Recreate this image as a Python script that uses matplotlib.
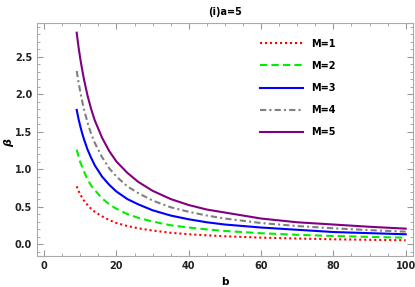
import matplotlib
matplotlib.use("Agg")
import matplotlib.pyplot as plt
from matplotlib.ticker import MultipleLocator

# values
b = [9, 9.5, 10, 10.5, 11, 12, 13, 14, 16, 18, 20, 23, 26, 30, 35, 40, 45, 50, 60, 70, 80, 90, 100]
beta_m1 = [0.77, 0.71, 0.66, 0.62, 0.58, 0.52, 0.47, 0.43, 0.37, 0.32, 0.28, 0.24, 0.21, 0.18, 0.15,
           0.13, 0.116, 0.103, 0.085, 0.073, 0.063, 0.056, 0.050]
beta_m2 = [1.26, 1.17, 1.09, 1.03, 0.97, 0.86, 0.78, 0.72, 0.61, 0.53, 0.47, 0.40, 0.35, 0.30, 0.25,
           0.22, 0.195, 0.174, 0.144, 0.123, 0.107, 0.095, 0.085]
beta_m3 = [1.79, 1.67, 1.57, 1.48, 1.40, 1.26, 1.15, 1.05, 0.90, 0.79, 0.70, 0.60, 0.53, 0.45, 0.38,
           0.33, 0.29, 0.26, 0.22, 0.19, 0.16, 0.145, 0.13]
beta_m4 = [2.31, 2.16, 2.03, 1.91, 1.80, 1.62, 1.47, 1.35, 1.16, 1.01, 0.90, 0.77, 0.68, 0.58, 0.49,
           0.43, 0.38, 0.34, 0.28, 0.24, 0.21, 0.185, 0.165]
beta_m5 = [2.82, 2.63, 2.47, 2.33, 2.20, 1.98, 1.80, 1.65, 1.42, 1.24, 1.10, 0.95, 0.83, 0.71, 0.60,
           0.52, 0.46, 0.42, 0.34, 0.29, 0.26, 0.23, 0.205]
labels = ["M=1", "M=2", "M=3", "M=4", "M=5"]

fig = plt.figure(figsize=(4.15, 2.87), dpi=100)
ax = fig.add_axes([0.089, 0.108, 0.906, 0.812])

ax.plot(b, beta_m1, color="#ff0000", lw=1.5, ls=(0, (1, 1.4)), label=labels[0])
ax.plot(b, beta_m2, color="#00ee00", lw=1.5, ls=(0, (3.5, 2)), label=labels[1])
ax.plot(b, beta_m3, color="#0000ff", lw=1.5, ls="-", label=labels[2])
ax.plot(b, beta_m4, color="#808080", lw=1.5, ls=(0, (3, 1.5, 1, 1.5)), label=labels[3])
ax.plot(b, beta_m5, color="#800080", lw=1.5, ls="-", label=labels[4])

ax.set_xlim(-2, 102)
ax.set_ylim(-0.16, 2.95)
ax.xaxis.set_major_locator(MultipleLocator(20))
ax.xaxis.set_minor_locator(MultipleLocator(5))
ax.yaxis.set_major_locator(MultipleLocator(0.5))
ax.yaxis.set_minor_locator(MultipleLocator(0.1))
ax.tick_params(which="both", direction="in", top=True, right=True, color="#999999",
               labelsize=7, labelcolor="#222222")
ax.tick_params(which="major", length=4)
ax.tick_params(which="minor", length=2)
for lab in ax.get_xticklabels() + ax.get_yticklabels():
    lab.set_fontweight("bold")
for s in ax.spines.values():
    s.set_color("#aaaaaa")

# axis labels placed by hand so they stay inside the small canvas
fig.text(225 / 415, 5 / 287, "b", fontsize=7.5, fontweight="bold", ha="center", va="center")
fig.text(9 / 415, 144 / 287, "β", fontsize=8, fontweight="bold", fontstyle="italic",
         ha="center", va="center", rotation=90)
ax.set_title("(i)a=5", fontsize=7, fontweight="bold", pad=6)

ax.legend(loc="upper left", bbox_to_anchor=(0.57, 0.97), frameon=False, handlelength=4.4,
          labelspacing=1.25, handletextpad=0.9, prop={"size": 7, "weight": "bold"})

fig.savefig("out.png", dpi=100)
